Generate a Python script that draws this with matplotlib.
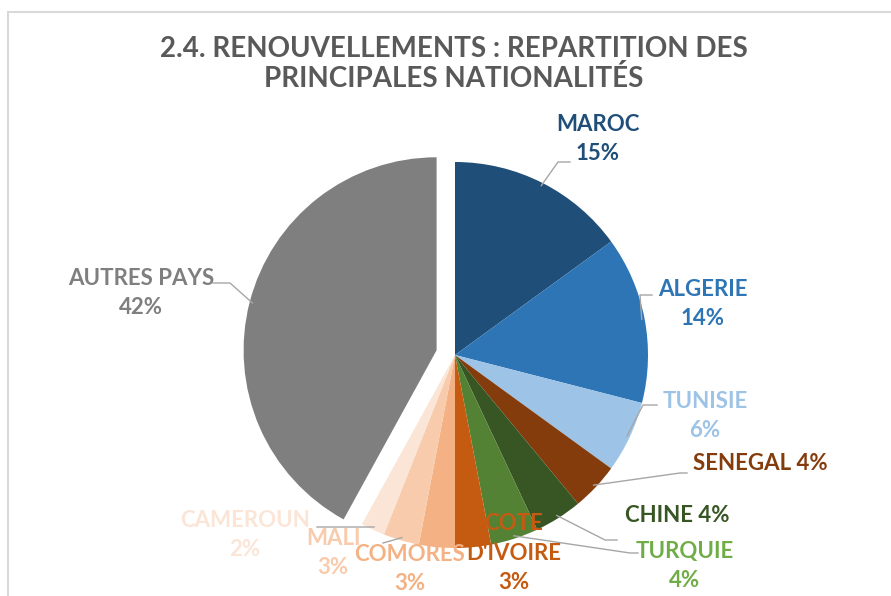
import numpy as np
import matplotlib
matplotlib.use("Agg")
from matplotlib import pyplot as plt
from matplotlib.patches import Rectangle

# data
pays = ["MAROC", "ALGERIE", "TUNISIE", "SENEGAL", "CHINE", "TURQUIE",
        "COTE D'IVOIRE", "COMORES", "MALI", "CAMEROUN", "AUTRES PAYS"]
parts = [15, 14, 6, 4, 4, 4, 3, 3, 3, 2, 42]
couleurs = ["#1F4E79", "#2E75B6", "#9DC3E6", "#843C0C", "#375623", "#548235",
            "#C55A11", "#F4B183", "#F8CBAD", "#FBE5D6", "#7F7F7F"]
couleurs_txt = ["#1F4E79", "#2E75B6", "#9DC3E6", "#843C0C", "#375623", "#70AD47",
                "#C55A11", "#F4B183", "#F8CBAD", "#FBE5D6", "#7F7F7F"]
eclate = [0, 0, 0, 0, 0, 0, 0, 0, 0, 0, 19]  # pixels

# label layout (pixels, y from top): text lines, centre
etiquettes = [
    ("MAROC\n15%", 598, 139),
    ("ALGERIE\n14%", 703, 304),
    ("TUNISIE\n6%", 705, 416),
    ("SENEGAL 4%", 760, 464),
    ("CHINE 4%", 677, 516),
    ("TURQUIE\n4%", 685, 566),
    ("COTE\nD'IVOIRE\n3%", 514, 553),
    ("COMORES\n3%", 410, 569),
    ("MALI\n3%", 333, 553),
    ("CAMEROUN\n2%", 245, 535),
    ("AUTRES PAYS\n42%", 141, 293),
]
# leader: elbow and end points (pixels), None = no leader
traits = [
    ((558, 162), (570, 162)),
    ((640, 295), (652, 295)),
    ((643, 405), (657, 405)),
    ((680, 473), (687, 473)),
    ((605, 540), (617, 540)),
    ((630, 553), (638, 553)),
    None,
    None,
    ((383, 543), (383, 543)),
    ((317, 527), (317, 527)),
    ((230, 283), (213, 283)),
]

W, H = 891, 596
fig = plt.figure(figsize=(W / 100, H / 100), dpi=100)
ax = fig.add_axes([0, 0, 1, 1])

cx, cy, r = 455, 355, 193
wedges, _ = ax.pie(parts, colors=couleurs, startangle=90, counterclock=False,
                   explode=eclate, center=(cx, H - cy), radius=r,
                   wedgeprops=dict(linewidth=0))
ax.set_xlim(0, W)
ax.set_ylim(0, H)
ax.set_aspect("equal")
ax.axis("off")

for i, w in enumerate(wedges):
    mid = np.deg2rad((w.theta1 + w.theta2) / 2)
    ox, oy = w.center
    x0 = ox + r * np.cos(mid) * 0.985
    y0 = oy + r * np.sin(mid) * 0.985
    if traits[i] is not None:
        (ex, ey), (fx, fy) = traits[i]
        ax.plot([x0, ex, fx], [y0, H - ey, H - fy], color="#A6A6A6", lw=1.0, zorder=3)
    txt, tx, ty = etiquettes[i]
    ax.text(tx, H - ty, txt, ha="center", va="center", color=couleurs_txt[i],
            fontsize=16, fontweight="bold", family="Lato", linespacing=1.5, zorder=4)

ax.text(454, H - 64, "2.4. RENOUVELLEMENTS : REPARTITION DES\nPRINCIPALES NATIONALITÉS",
        ha="center", va="center", color="#595959", fontsize=20, fontweight="bold",
        family="Lato", linespacing=1.15)

ax.add_patch(Rectangle((8, -20), W + 20, H - 12 + 20, fill=False,
                       edgecolor="#D9D9D9", lw=1.5, zorder=0))

fig.savefig("out.png", dpi=100)
